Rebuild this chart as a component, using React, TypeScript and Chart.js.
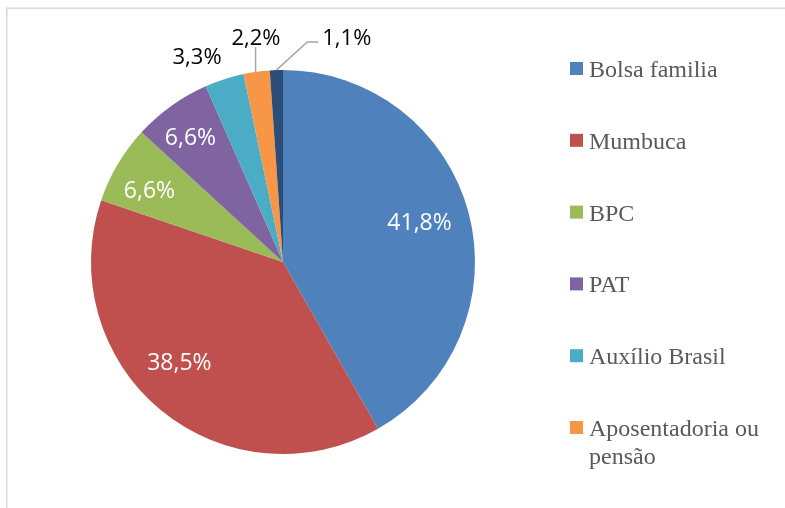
import React, { useEffect, useRef } from "react";
import { Chart, registerables } from "chart.js";

Chart.register(...registerables);

const categories = [
  "Bolsa familia",
  "Mumbuca",
  "BPC",
  "PAT",
  "Auxílio Brasil",
  "Aposentadoria ou pensão",
  "Outros",
];
const values = [41.8, 38.5, 6.6, 6.6, 3.3, 2.2, 1.1];
const colors = ["#4F81BD", "#C0504D", "#9BBB59", "#8064A2", "#4BACC6", "#F79646", "#2C4D75"];

// label placement (style): angle clockwise from top in degrees, distance as fraction of radius
const labelPlacement = [
  { angle: 74, dist: 0.74, color: "#ffffff", leader: "" },
  { angle: 226, dist: 0.75, color: "#ffffff", leader: "" },
  { angle: 298.3, dist: 0.79, color: "#ffffff", leader: "" },
  { angle: 323.5, dist: 0.81, color: "#ffffff", leader: "" },
  { angle: 337.3, dist: 1.16, color: "#000000", leader: "" },
  { angle: 353.1, dist: 1.175, color: "#000000", leader: "vertical" },
  { angle: 15.9, dist: 1.213, color: "#000000", leader: "elbow" },
];

const fmt = (v: number) => v.toFixed(1).replace(".", ",") + "%";

const framePlugin = {
  id: "frame",
  beforeDraw(chart: any) {
    const ctx = chart.ctx;
    ctx.save();
    ctx.fillStyle = "#ffffff";
    ctx.fillRect(0, 0, chart.width, chart.height);
    ctx.fillStyle = "#d9d9d9";
    ctx.fillRect(6, 7.5, chart.width - 6, 1.5);
    ctx.fillRect(6, 7.5, 1.5, chart.height - 7.5);
    ctx.restore();
  },
};

const labelsPlugin = {
  id: "sliceLabels",
  afterDatasetsDraw(chart: any) {
    const ctx = chart.ctx;
    const meta = chart.getDatasetMeta(0);
    const ds = chart.data.datasets[0];
    ctx.save();
    meta.data.forEach((arc: any, i: number) => {
      const p = arc.getProps(["x", "y", "outerRadius", "startAngle", "endAngle"], true);
      const pl = labelPlacement[i];
      const a = (pl.angle * Math.PI) / 180 - Math.PI / 2;
      const lx = p.x + Math.cos(a) * pl.dist * p.outerRadius;
      const ly = p.y + Math.sin(a) * pl.dist * p.outerRadius;
      const text = fmt(ds.data[i]);
      const inside = pl.dist < 1;
      ctx.font = (inside ? "23px" : "22px") + " 'Open Sans', 'Liberation Sans', sans-serif";
      ctx.textAlign = "center";
      ctx.textBaseline = "middle";
      const w = ctx.measureText(text).width;
      const mid = (p.startAngle + p.endAngle) / 2;
      const ex = p.x + Math.cos(mid) * p.outerRadius;
      const ey = p.y + Math.sin(mid) * p.outerRadius;
      ctx.strokeStyle = "#a6a6a6";
      ctx.lineWidth = 1.5;
      if (pl.leader === "vertical") {
        ctx.beginPath();
        ctx.moveTo(ex - 1, ey);
        ctx.lineTo(ex - 1, ly + 9);
        ctx.stroke();
      } else if (pl.leader === "elbow") {
        const left = lx - w / 2;
        ctx.beginPath();
        ctx.moveTo(ex, ey);
        ctx.lineTo(left - 15, ly + 4);
        ctx.lineTo(left - 4, ly + 4);
        ctx.stroke();
      }
      ctx.fillStyle = pl.color;
      ctx.fillText(text, lx, ly + 1);
    });
    ctx.restore();
  },
};

const legendPlugin = {
  id: "sideLegend",
  afterDraw(chart: any) {
    const ctx = chart.ctx;
    const bg = chart.data.datasets[0].backgroundColor;
    const labels = chart.data.labels as string[];
    const boxX = 570;
    const textX = 589;
    const maxW = 190;
    const rowGap = 71.8;
    const lineH = 28;
    let top = 62;
    ctx.save();
    ctx.font = "24px 'Liberation Serif', serif";
    ctx.textAlign = "left";
    ctx.textBaseline = "alphabetic";
    labels.forEach((lab, i) => {
      const words = lab.split(" ");
      const lines: string[] = [];
      let cur = "";
      words.forEach((wd) => {
        const test = cur ? cur + " " + wd : wd;
        if (ctx.measureText(test).width > maxW && cur) {
          lines.push(cur);
          cur = wd;
        } else cur = test;
      });
      if (cur) lines.push(cur);
      ctx.fillStyle = bg[i];
      ctx.fillRect(boxX, top, 13, 13);
      ctx.fillStyle = "#595959";
      lines.forEach((ln, k) => ctx.fillText(ln, textX, top + 15 + k * lineH));
      top += rowGap + (lines.length - 1) * lineH;
    });
    ctx.restore();
  },
};

export default function App() {
  const ref = useRef<HTMLCanvasElement>(null);
  useEffect(() => {
    if (!ref.current) return;
    const chart = new Chart(ref.current, {
      type: "pie",
      data: {
        labels: categories,
        datasets: [
          {
            data: values,
            backgroundColor: colors,
            borderWidth: 0,
          },
        ],
      },
      options: {
        responsive: false,
        animation: false,
        layout: { padding: { left: 91, right: 310, top: 70, bottom: 54 } },
        plugins: {
          legend: { display: false },
          tooltip: { enabled: false },
        },
      },
      plugins: [framePlugin, labelsPlugin, legendPlugin],
    });
    return () => chart.destroy();
  }, []);
  return (
    <div style={{ position: "fixed", left: 0, top: 0, width: 785, height: 508 }}>
      <canvas ref={ref} width={785} height={508} style={{ display: "block" }} />
    </div>
  );
}
